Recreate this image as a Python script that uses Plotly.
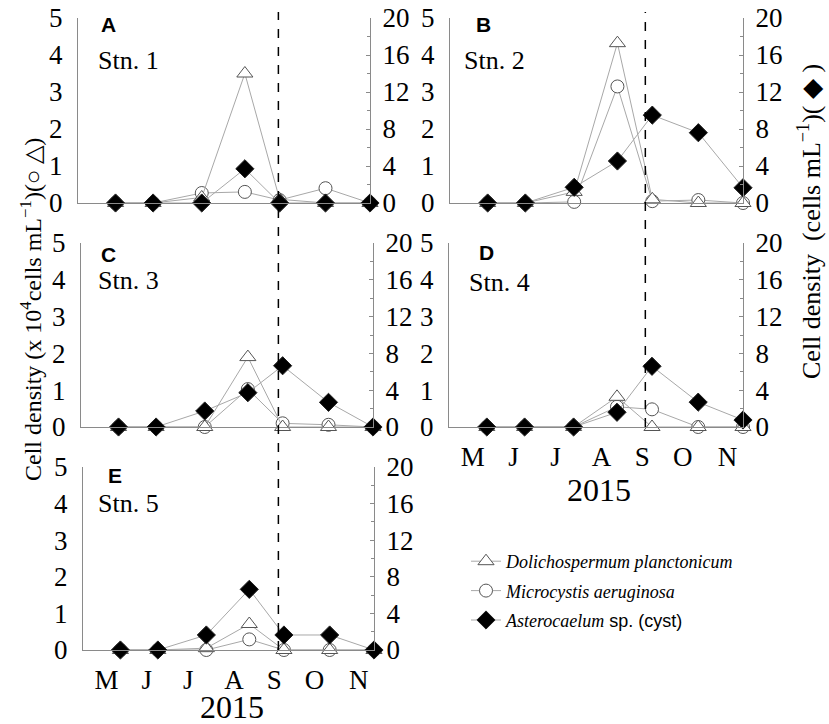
import plotly.graph_objects as go

# ---- data ----
dates = ["2015-05-27", "2015-06-23", "2015-07-28", "2015-08-28",
         "2015-09-22", "2015-10-25", "2015-11-26"]
month_ticks = ["2015-05-17", "2015-06-15", "2015-07-15", "2015-08-17",
               "2015-09-15", "2015-10-14", "2015-11-15"]
month_labels = ["M", "J", "J", "A", "S", "O", "N"]
year_label = "2015"
stations = ["Stn. 1", "Stn. 2", "Stn. 3", "Stn. 4", "Stn. 5"]
panel_letters = ["A", "B", "C", "D", "E"]

dolicho = [
    [0, 0, 0.15, 3.5, 0.1, 0, 0],
    [0, 0, 0.3, 4.32, 0.1, 0, 0],
    [0, 0, 0, 1.9, 0, 0, 0],
    [0, 0, 0, 0.82, 0, 0, 0],
    [0, 0, 0.05, 0.71, 0, 0, 0],
]
microcystis = [
    [0, 0, 0.27, 0.3, 0.08, 0.4, 0],
    [0, 0, 0.03, 3.15, 0.05, 0.08, 0],
    [0, 0, 0, 1.03, 0.1, 0.06, 0],
    [0, 0, 0, 0.55, 0.48, 0, 0],
    [0, 0, 0, 0.29, 0, 0, 0],
]
astero = [
    [0, 0, 0, 3.7, 0, 0, 0],
    [0, 0, 1.7, 4.54, 9.5, 7.6, 1.65],
    [0, 0, 1.74, 3.73, 6.66, 2.68, 0],
    [0, 0, 0, 1.6, 6.6, 2.7, 0.76],
    [0, 0, 1.64, 6.63, 1.64, 1.64, 0],
]
boundary_dates = ["2015-09-18", "2015-09-17"]  # left column, right column

W, H = 829, 724
# panel boxes in pixels: (left, right, top, bottom)
boxes = [
    (78, 370, 18, 203),
    (450, 743, 18, 203),
    (81, 373, 243, 427),
    (449, 743, 243, 427),
    (83, 374, 467, 650),
]

SERIF = "Liberation Serif"
SANS = "Liberation Sans"
AXC = "#8a8a8a"
LINEC = "#a8a8a8"

fig = go.Figure()
layout = dict(
    template="none",
    width=W, height=H, margin=dict(l=0, r=0, t=0, b=0, autoexpand=False),
    paper_bgcolor="white", plot_bgcolor="rgba(0,0,0,0)",
    showlegend=True,
)

for i in range(5):
    L, R, T, B = boxes[i]
    n = i + 1
    xa = "x" if n == 1 else f"x{n}"
    ya = "y" if n == 1 else f"y{n}"
    yr = f"y{n + 5}"
    show_x = i in (3, 4)
    layout["xaxis" if n == 1 else f"xaxis{n}"] = dict(
        domain=[L / W, R / W], anchor=ya, type="date", automargin=False,
        range=["2015-04-30", "2015-11-26"],
        showgrid=False, zeroline=False, showline=True, linecolor=AXC, linewidth=1,
        tickvals=month_ticks, ticktext=month_labels, ticks="",
        showticklabels=show_x,
        tickfont=dict(family=SERIF, size=27, color="black"),
        ticklabelstandoff=6,
    )
    layout["yaxis" if n == 1 else f"yaxis{n}"] = dict(
        domain=[1 - B / H, 1 - T / H], anchor=xa, range=[0, 5], automargin=False,
        tickvals=[0, 1, 2, 3, 4, 5], showgrid=False, zeroline=False,
        showline=True, linecolor=AXC, linewidth=1, ticks="",
        tickfont=dict(family=SERIF, size=27, color="black"),
        ticklabelstandoff=9,
    )
    layout[f"yaxis{n + 5}"] = dict(
        overlaying=ya, side="right", anchor=xa, range=[0, 20], automargin=False,
        tickvals=[0, 4, 8, 12, 16, 20], showgrid=False, zeroline=False,
        showline=True, linecolor=AXC, linewidth=1, ticks="inside", ticklen=4,
        tickcolor=AXC,
        minor=dict(dtick=2, ticks="inside", ticklen=3, tickcolor=AXC),
        tickfont=dict(family=SERIF, size=27, color="black"),
        ticklabelstandoff=6,
    )

    first = i == 0
    fig.add_trace(go.Scatter(
        x=dates, y=microcystis[i], xaxis=xa, yaxis=ya, mode="lines+markers",
        name="<i>Microcystis aeruginosa</i>", legendrank=2, legendgroup="m",
        showlegend=first,
        line=dict(color=LINEC, width=1),
        marker=dict(symbol="circle", size=13, color="white", line=dict(color="#555", width=1)),
        cliponaxis=False,
    ))
    fig.add_trace(go.Scatter(
        x=dates, y=dolicho[i], xaxis=xa, yaxis=ya, mode="lines+markers",
        name="<i>Dolichospermum planctonicum</i>", legendrank=1, legendgroup="d",
        showlegend=first,
        line=dict(color=LINEC, width=1),
        marker=dict(symbol="triangle-up", size=14, color="white", line=dict(color="#555", width=1)),
        cliponaxis=False,
    ))
    fig.add_trace(go.Scatter(
        x=dates, y=astero[i], xaxis=xa, yaxis=yr, mode="lines+markers",
        name="<i>Asterocaelum</i><span style='font-family:Liberation Sans'> sp. (cyst)</span>",
        legendrank=3, legendgroup="a", showlegend=first,
        line=dict(color=LINEC, width=1),
        marker=dict(symbol="diamond", size=14, color="black", line=dict(color="#222", width=1)),
        cliponaxis=False,
    ))

annotations = []
letter_y = [25, 25, 254, 252, 475]
stn_y = [60, 60, 280, 282, 503]
letter_x = [99, 474, 99, 477, 106]
stn_x = [96, 462, 96, 467, 96]
for i in range(5):
    annotations.append(dict(
        x=letter_x[i] / W, y=1 - letter_y[i] / H, xref="paper", yref="paper",
        text=f"<b>{panel_letters[i]}</b>", showarrow=False, xanchor="left", yanchor="middle",
        font=dict(family=SANS, size=21, color="black"),
    ))
    annotations.append(dict(
        x=stn_x[i] / W, y=1 - stn_y[i] / H, xref="paper", yref="paper",
        text=stations[i], showarrow=False, xanchor="left", yanchor="middle",
        font=dict(family=SERIF, size=26, color="black"),
    ))

# year labels under the bottom panels of each column
for (xc, yc) in [(599, 490), (232, 707)]:
    annotations.append(dict(
        x=xc / W, y=1 - yc / H, xref="paper", yref="paper", text=year_label,
        showarrow=False, xanchor="center", yanchor="middle",
        font=dict(family=SERIF, size=32, color="black"),
    ))

annotations.append(dict(
    x=31 / W, y=1 - 310 / H, xref="paper", yref="paper", textangle=-90,
    text="Cell density (x 10<sup>4</sup>cells mL<sup>\u22121</sup>)(\u25cb \u25b3)",
    showarrow=False, xanchor="center", yanchor="middle",
    font=dict(family=SERIF, size=24, color="black"),
))
annotations.append(dict(
    x=810 / W, y=1 - 222 / H, xref="paper", yref="paper", textangle=-90,
    text="Cell density\u00a0\u00a0(cells mL<sup>\u22121</sup>)(\u00a0\u25c6\u00a0)",
    showarrow=False, xanchor="center", yanchor="middle",
    font=dict(family=SERIF, size=26, color="black"),
))
layout["annotations"] = annotations

layout["shapes"] = [
    dict(type="line", xref="x5", yref="paper", x0=boundary_dates[0], x1=boundary_dates[0],
         y0=1 - 650 / H, y1=1 - 12 / H, line=dict(color="black", width=1.5, dash="dash")),
    dict(type="line", xref="x2", yref="paper", x0=boundary_dates[1], x1=boundary_dates[1],
         y0=1 - 427 / H, y1=1 - 12 / H, line=dict(color="black", width=1.5, dash="dash")),
]

layout["legend"] = dict(
    x=466 / W, y=1 - 543 / H, xanchor="left", yanchor="top",
    font=dict(family=SERIF, size=18, color="black"),
    bgcolor="rgba(0,0,0,0)", traceorder="grouped", tracegroupgap=3, itemwidth=30,
)

fig.update_layout(**layout)
fig.write_html("out.html", post_script="document.body.style.margin='0px';",
               config={"displayModeBar": False})
